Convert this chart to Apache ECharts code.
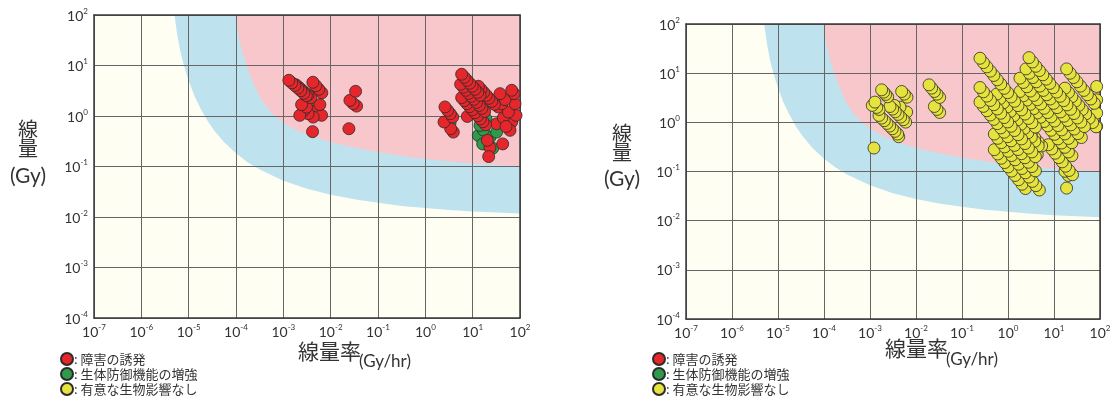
<!DOCTYPE html>
<html>
<head>
<meta charset="utf-8">
<script src="https://cdn.jsdelivr.net/npm/echarts@6/dist/echarts.min.js"></script>
<style>
  html, body { margin: 0; padding: 0; background: #ffffff; }
  #chart { width: 1118px; height: 400px; }
</style>
</head>
<body>
<div id="chart"></div>
<script>
// Axis decades (powers of ten) for dose rate (Gy/hr) and dose (Gy)
const rateDecades = [-7, -6, -5, -4, -3, -2, -1, 0, 1, 2];
const doseDecades = [-4, -3, -2, -1, 0, 1, 2];

// Legend categories
const categoryNames = ['障害の誘発', '生体防御機能の増強', '有意な生物影響なし'];

// Zone edges [dose rate, dose]; the area above/right of each edge is shaded.
// First and last points sit just outside the plot so the fill reaches the frame.
const effectZoneEdge = [
  [9.55e-5, 200], [1e-4, 100], [1.12e-4, 39.8], [1.32e-4, 20.0], [1.66e-4, 10],
  [2.24e-4, 4.79], [3.16e-4, 2.40], [4.47e-4, 1.48], [6.61e-4, 1.0], [1e-3, 0.741],
  [1.78e-3, 0.537], [3.16e-3, 0.427], [1e-2, 0.302], [3.16e-2, 0.234], [0.1, 0.191],
  [0.316, 0.162], [1, 0.141], [3.16, 0.126], [10, 0.115], [31.6, 0.107],
  [100, 0.1], [316, 0.0955]
];
const transitionZoneEdge = [
  [4.79e-6, 200], [5.01e-6, 100], [5.75e-6, 39.8], [6.76e-6, 17.8], [7.94e-6, 10],
  [1e-5, 5.01], [1.32e-5, 2.51], [1.78e-5, 1.41], [2.51e-5, 0.794], [3.55e-5, 0.501],
  [5.62e-5, 0.302], [1e-4, 0.182], [1.78e-4, 0.120], [3.16e-4, 0.0871], [1e-3, 0.0525],
  [3.16e-3, 0.0363], [1e-2, 0.0275], [3.16e-2, 0.0224], [0.1, 0.0191], [0.316, 0.0166],
  [1, 0.0151], [3.16, 0.0138], [10, 0.0129], [31.6, 0.0123], [100, 0.0117], [316, 0.0115]
];
// Far corner that closes both zones outside the plot frame
const zoneCorner = [316, 200];

// Observations with induced damage [dose rate, dose]
const damageObs = [
  [1.31e-3, 5.10], [1.51e-3, 4.53], [1.75e-3, 4.02], [2.03e-3, 3.57], [2.34e-3, 3.17], [2.71e-3, 2.81], [3.06e-3, 2.53],
  [1.84e-3, 4.15], [2.13e-3, 3.70], [2.46e-3, 3.29], [2.85e-3, 2.92], [3.30e-3, 2.59], [3.81e-3, 2.30],
  [4.21e-3, 4.66], [4.87e-3, 3.97], [5.63e-3, 3.38], [6.52e-3, 2.88],
  [2.43e-3, 1.68], [3.09e-3, 1.50], [2.23e-3, 1.03], [2.71e-3, 1.29], [3.34e-3, 1.11], [4.27e-3, 0.95],
  [5.92e-3, 1.68], [6.43e-3, 1.03], [5.04e-3, 1.29],
  [4.14e-3, 0.49], [2.43e-2, 0.56],
  [3.36e-2, 3.08], [2.55e-2, 2.04], [2.99e-2, 1.76], [3.53e-2, 1.57],
  [5.85, 6.71], [6.67, 5.85], [7.59, 5.10], [8.64, 4.45], [9.84, 3.88], [11.2, 3.38], [12.8, 2.94], [14.3, 2.57],
  [5.57, 4.25], [6.35, 3.70], [7.23, 3.23], [8.23, 2.81], [9.37, 2.45], [10.7, 2.14], [12.1, 1.86], [13.8, 1.62], [15.7, 1.42], [17.9, 1.23],
  [5.85, 2.31], [6.67, 2.01], [7.59, 1.75], [8.64, 1.53], [9.84, 1.33], [11.2, 1.16], [12.8, 1.01], [14.5, 0.88], [16.5, 0.77], [18.8, 0.67],
  [13.2, 3.88], [15.0, 3.38], [17.1, 2.94], [19.5, 2.57], [22.1, 2.24], [25.2, 1.95], [28.7, 1.70],
  [7.71, 0.98],
  [37.8, 2.77], [66.8, 3.23], [74.8, 2.77], [48.3, 2.11], [41.0, 1.75], [78.5, 1.75], [56.8, 1.20], [82.4, 1.03],
  [50.7, 0.62], [61.5, 0.52], [43.1, 0.28], [34.9, 1.51], [44.5, 0.92], [66.8, 0.76], [32.1, 0.70],
  [20.4, 0.33], [21.8, 0.157], [23.2, 0.234],
  [2.60, 1.51], [2.96, 1.29], [3.37, 1.11], [3.78, 0.95], [2.48, 0.76], [3.43, 0.56], [3.90, 0.48]
];

// Observations with enhanced defence functions
const defenseObs = [
  [3.81e-3, 1.58],
  [3.32, 0.72], [14.3, 0.65], [16.8, 0.53], [19.1, 0.88], [32.1, 0.48],
  [16.3, 0.28], [26.5, 0.23], [13.2, 0.41], [23.2, 0.38]
];

// Observations with no significant biological effect
const noEffectObs = [
  [1.79e-3, 4.58], [1.98e-3, 4.11], [2.19e-3, 3.69], [2.42e-3, 3.31],
  [1.28e-3, 2.58], [1.12e-3, 2.21], [1.40e-3, 2.01], [1.57e-3, 1.83],
  [1.57e-3, 1.38], [1.79e-3, 1.22], [2.05e-3, 1.08], [2.34e-3, 0.95], [2.68e-3, 0.84], [3.06e-3, 0.74], [3.49e-3, 0.655], [3.99e-3, 0.578], [4.20e-3, 0.51],
  [2.72e-3, 2.10], [3.11e-3, 1.86], [3.55e-3, 1.64], [4.06e-3, 1.45], [4.64e-3, 1.28], [5.31e-3, 1.13], [5.96e-3, 1.01],
  [4.88e-3, 4.24], [5.57e-3, 3.74], [6.37e-3, 3.25],
  [3.38e-3, 2.21], [4.49e-3, 2.04], [6.26e-3, 1.62], [5.31e-3, 1.67], [3.80e-3, 1.80],
  [1.22e-3, 0.30],
  [1.92e-2, 5.79], [2.19e-2, 4.96], [2.51e-2, 4.24], [2.86e-2, 3.74], [3.27e-2, 3.21],
  [2.51e-2, 2.10], [2.86e-2, 1.83], [3.27e-2, 1.59],
  [0.246, 20.1], [0.292, 16.4], [0.348, 13.4], [0.414, 11.0], [0.492, 8.98], [0.585, 7.34], [0.696, 6.0], [0.828, 4.91], [0.984, 4.01], [1.17, 3.28], [1.39, 2.68], [1.65, 2.19], [1.97, 1.79], [2.34, 1.47], [2.78, 1.20], [3.31, 0.98], [3.94, 0.80],
  [2.86, 20.7], [3.40, 16.9], [4.04, 13.8], [4.81, 11.3], [5.72, 9.25], [6.80, 7.56], [8.09, 6.18], [9.62, 5.05], [11.4, 4.13], [13.6, 3.38], [16.2, 2.76], [19.2, 2.26], [22.9, 1.84], [27.2, 1.51], [32.3, 1.23], [38.5, 1.01], [45.8, 0.82],
  [2.46, 12.2], [2.92, 9.97], [3.48, 8.15], [4.14, 6.67], [4.92, 5.45], [5.85, 4.46], [6.96, 3.64], [8.28, 2.98], [9.84, 2.43], [11.7, 1.99], [13.9, 1.63], [16.5, 1.33], [19.7, 1.09], [23.4, 0.89], [27.8, 0.73], [33.1, 0.59], [39.4, 0.49],
  [1.82, 7.91], [2.16, 6.47], [2.57, 5.29], [3.06, 4.32], [3.64, 3.53], [4.33, 2.89], [5.15, 2.36], [6.12, 1.93], [7.28, 1.58], [8.66, 1.29], [10.3, 1.06], [12.2, 0.86], [14.6, 0.70], [17.3, 0.58], [20.6, 0.47], [24.5, 0.385],
  [18.8, 12.2], [22.4, 9.97], [26.6, 8.15], [31.6, 6.67], [37.6, 5.45], [44.7, 4.46], [53.2, 3.64], [63.2, 2.98], [75.2, 2.43],
  [0.246, 5.11], [0.292, 4.18], [0.348, 3.42], [0.414, 2.79], [0.492, 2.28], [0.585, 1.87], [0.696, 1.53], [0.828, 1.25], [0.984, 1.02], [1.17, 0.83], [1.39, 0.68], [1.65, 0.56], [1.97, 0.46], [2.34, 0.37], [2.78, 0.30], [3.31, 0.25], [3.94, 0.20],
  [0.246, 2.58], [0.292, 2.11], [0.348, 1.72], [0.414, 1.41], [0.492, 1.15], [0.585, 0.94], [0.696, 0.77], [0.828, 0.63], [0.984, 0.51], [1.17, 0.42], [1.39, 0.34], [1.65, 0.28], [1.97, 0.23], [2.34, 0.19], [2.78, 0.154], [3.31, 0.126], [3.94, 0.103],
  [0.567, 3.74], [0.674, 3.06], [0.802, 2.50], [0.954, 2.04], [1.13, 1.67], [1.35, 1.37], [1.60, 1.12], [1.91, 0.91], [2.27, 0.75], [2.70, 0.61], [3.21, 0.50], [3.81, 0.41], [4.54, 0.33],
  [1.82, 4.24], [2.16, 3.47], [2.57, 2.83], [3.06, 2.32], [3.64, 1.89], [4.33, 1.55], [5.15, 1.27], [6.12, 1.04], [7.28, 0.85], [8.66, 0.69], [10.3, 0.57], [12.2, 0.46], [14.6, 0.38], [17.3, 0.31], [20.6, 0.25], [24.5, 0.21],
  [17.3, 4.95], [20.6, 4.05], [24.5, 3.31], [29.1, 2.70], [34.6, 2.21], [41.1, 1.81], [48.9, 1.48], [58.2, 1.21], [69.2, 0.99], [82.3, 0.81],
  [0.505, 0.578], [0.600, 0.473], [0.714, 0.386], [0.849, 0.316], [1.01, 0.258], [1.20, 0.211], [1.43, 0.173], [1.70, 0.141], [2.02, 0.115], [2.40, 0.094], [2.86, 0.077], [3.40, 0.063], [4.04, 0.0515], [4.81, 0.042],
  [0.505, 0.278], [0.600, 0.227], [0.714, 0.186], [0.849, 0.152], [1.01, 0.124], [1.20, 0.102], [1.43, 0.083], [1.70, 0.068], [2.02, 0.055], [2.40, 0.045],
  [2.26, 0.89], [2.69, 0.73], [3.20, 0.60], [3.80, 0.49], [4.52, 0.40], [5.38, 0.33],
  [1.82, 0.605], [2.16, 0.495], [2.57, 0.404], [3.06, 0.331], [3.64, 0.270], [4.33, 0.221],
  [7.53, 0.351], [8.95, 0.287], [10.6, 0.235], [12.7, 0.192], [15.1, 0.157], [17.9, 0.128], [21.3, 0.105], [25.3, 0.086],
  [17.3, 0.101], [20.6, 0.083],
  [18.8, 0.046],
  [84.7, 5.36], [84.7, 2.87], [84.7, 1.54], [84.7, 0.83]
];

const FONT = "Lato, 'Noto Sans CJK JP', sans-serif";
const CJK = "'Noto Sans CJK JP', sans-serif";
const TEXT = '#333333';
const RED = '#e5262b';
const GREEN = '#2f9a4a';
const YELLOW = '#e6e33e';
const PINK = '#f7c7cb';
const BLUE = '#bee3ee';
const CREAM = '#fffef3';

const rateMin = Math.pow(10, rateDecades[0]);
const rateMax = Math.pow(10, rateDecades[rateDecades.length - 1]);
const doseMin = Math.pow(10, doseDecades[0]);
const doseMax = Math.pow(10, doseDecades[doseDecades.length - 1]);

const powerLabel = v => '{b|10}{s|' + Math.round(Math.log10(v)) + '}';
const powerRich = {
  b: { fontSize: 14, fontFamily: FONT, color: TEXT, lineHeight: 16, verticalAlign: 'bottom' },
  s: { fontSize: 8, fontFamily: FONT, color: TEXT, lineHeight: 9, verticalAlign: 'top' }
};

function rateAxis(gridIndex, main) {
  return {
    type: 'log', logBase: 10, gridIndex: gridIndex,
    position: main ? 'bottom' : 'top',
    min: rateMin, max: rateMax, splitNumber: rateDecades.length - 1,
    z: 3,
    axisLine: { show: true, onZero: false, lineStyle: { color: '#3a3a3a', width: 1.5 } },
    axisTick: { show: false },
    splitLine: { show: main, lineStyle: { color: '#666666', width: 1 } },
    axisLabel: { show: main, formatter: powerLabel, rich: powerRich, margin: 5 }
  };
}
function doseAxis(gridIndex, main) {
  return {
    type: 'log', logBase: 10, gridIndex: gridIndex,
    position: main ? 'left' : 'right',
    min: doseMin, max: doseMax, splitNumber: doseDecades.length - 1,
    z: 3,
    axisLine: { show: true, onZero: false, lineStyle: { color: '#3a3a3a', width: 1.5 } },
    axisTick: { show: false },
    splitLine: { show: main, lineStyle: { color: '#666666', width: 1 } },
    axisLabel: { show: main, formatter: powerLabel, rich: powerRich, margin: 6 }
  };
}

// Shaded zone: the edge polyline closed through the far corner, clipped to the grid
function zone(edge, color, idx) {
  return {
    type: 'custom', xAxisIndex: idx, yAxisIndex: idx, silent: true, clip: true, z: 1,
    data: [0],
    renderItem: (params, api) => {
      const pts = edge.map(p => api.coord(p));
      pts.push(api.coord(zoneCorner));
      return { type: 'polygon', shape: { points: pts }, style: { fill: color } };
    }
  };
}

function dots(name, data, color, idx) {
  return {
    name: name, type: 'scatter', xAxisIndex: idx, yAxisIndex: idx,
    data: data.slice().reverse(),
    symbolSize: 12,
    itemStyle: { color: color, borderColor: '#2b2b2b', borderWidth: 0.8, opacity: 1 },
    emphasis: { disabled: true },
    z: 5
  };
}

function legendAt(left, top) {
  return {
    left: left, top: top, height: 60, orient: 'vertical', icon: 'circle',
    itemWidth: 12, itemHeight: 12, itemGap: 1, selectedMode: false, padding: 0,
    data: categoryNames,
    formatter: n => ': ' + n,
    textStyle: { fontSize: 13, color: TEXT, fontFamily: CJK, padding: [0, 0, 0, -4] }
  };
}

function label(x, y, text, size, align) {
  return {
    type: 'text', x: x, y: y, silent: true,
    style: { text: text, font: size + 'px ' + FONT, fill: TEXT, align: align || 'center', verticalAlign: 'middle' }
  };
}

const chart = echarts.init(document.getElementById('chart'), null, { renderer: 'canvas' });
chart.setOption({
  animation: false,
  backgroundColor: '#ffffff',
  grid: [
    { left: 94, top: 15, width: 426, height: 303, show: true, backgroundColor: CREAM, borderWidth: 0 },
    { left: 686, top: 24, width: 414, height: 295, show: true, backgroundColor: CREAM, borderWidth: 0 }
  ],
  xAxis: [rateAxis(0, true), rateAxis(1, true), rateAxis(0, false), rateAxis(1, false)],
  yAxis: [doseAxis(0, true), doseAxis(1, true), doseAxis(0, false), doseAxis(1, false)],
  legend: [legendAt(60, 352), legendAt(652, 352)],
  series: [
    zone(transitionZoneEdge, BLUE, 0),
    zone(effectZoneEdge, PINK, 0),
    zone(transitionZoneEdge, BLUE, 1),
    zone(effectZoneEdge, PINK, 1),
    dots(categoryNames[1], defenseObs, GREEN, 0),
    dots(categoryNames[0], damageObs, RED, 0),
    dots(categoryNames[2], noEffectObs, YELLOW, 1)
  ],
  graphic: [
    label(28, 131, '線', 20), label(28, 150, '量', 20), label(28, 176, '(Gy)', 21),
    label(622, 135, '線', 20), label(622, 154, '量', 20), label(622, 179, '(Gy)', 21),
    label(298, 352, '線量率', 21, 'left'), label(359, 362, '(Gy/hr)', 17, 'left'),
    label(885, 349, '線量率', 21, 'left'), label(946, 360, '(Gy/hr)', 17, 'left')
  ]
});
</script>
</body>
</html>
